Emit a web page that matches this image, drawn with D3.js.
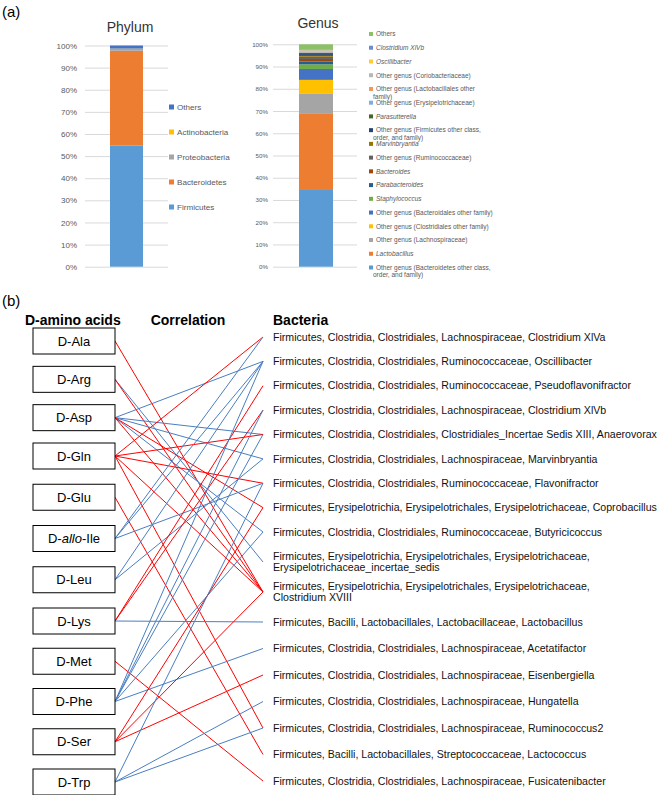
<!DOCTYPE html>
<html>
<head>
<meta charset="utf-8">
<script src="https://cdn.jsdelivr.net/npm/d3@7"></script>
<style>
  body { margin: 0; background: #fff; }
  svg { display: block; }
  text { font-family: "Liberation Sans", Arial, sans-serif; }
</style>
</head>
<body>
<svg id="chart" width="660" height="795"></svg>
<script>
// ---- (a) data ----
const phylumNames = ["Firmicutes", "Bacteroidetes", "Proteobacteria", "Actinobacteria", "Others"];
const phylumValues = [54.7, 42.9, 0.9, 0.1, 1.4];
const phylumColors = ["#5B9BD5", "#ED7D31", "#A5A5A5", "#FFC000", "#4472C4"];

// bottom to top of the stack
const genusNames = [
  "Other genus (Bacteroidetes other class, order, and family)",
  "Lactobacillus",
  "Other genus (Lachnospiraceae)",
  "Other genus (Clostridiales other family)",
  "Other genus (Bacteroidales other family)",
  "Staphylococcus",
  "Parabacteroides",
  "Bacteroides",
  "Other genus (Ruminococcaceae)",
  "Marvinbryantia",
  "Other genus (Firmicutes other class, order, and family)",
  "Parasutterella",
  "Other genus (Erysipelotrichaceae)",
  "Other genus (Lactobacillales other family)",
  "Other genus (Coriobacteriaceae)",
  "Oscillibacter",
  "Clostridium XlVb",
  "Others"
];
const genusValues = [34.5, 34.5, 8.7, 6.3, 4.9, 2.1, 1.2, 1.2, 1.0, 0.4, 0.8, 0.5, 0.3, 0.3, 0.4, 0.2, 0.2, 2.5];
const genusItalic = [false, true, false, false, false, true, true, true, false, true, false, true, false, false, false, true, true, false];
const genusColors = ["#5B9BD5", "#ED7D31", "#A5A5A5", "#FFC000", "#4472C4", "#70AD47",
  "#255E91", "#9E480E", "#636363", "#997300", "#264478", "#43682B",
  "#7CAFDD", "#F1975A", "#B7B7B7", "#FFCD33", "#698ED0", "#8CC168"];
// legend text wrapped as in the figure
const genusLegendLines = {
  "Other genus (Bacteroidetes other class, order, and family)": ["Other genus (Bacteroidetes other class,", "order, and family)"],
  "Other genus (Firmicutes other class, order, and family)": ["Other genus (Firmicutes other class,", "order, and family)"],
  "Other genus (Lactobacillales other family)": ["Other genus (Lactobacillales other", "family)"]
};

const pctTicks = [0, 10, 20, 30, 40, 50, 60, 70, 80, 90, 100];

// ---- (b) data ----
const aminoAcids = ["D-Ala", "D-Arg", "D-Asp", "D-Gln", "D-Glu", "D-allo-Ile", "D-Leu", "D-Lys", "D-Met", "D-Phe", "D-Ser", "D-Trp"];
const bacteria = [
  ["Firmicutes, Clostridia, Clostridiales, Lachnospiraceae, Clostridium XlVa"],
  ["Firmicutes, Clostridia, Clostridiales, Ruminococcaceae, Oscillibacter"],
  ["Firmicutes, Clostridia, Clostridiales, Ruminococcaceae, Pseudoflavonifractor"],
  ["Firmicutes, Clostridia, Clostridiales, Lachnospiraceae, Clostridium XlVb"],
  ["Firmicutes, Clostridia, Clostridiales, Clostridiales_Incertae Sedis XIII, Anaerovorax"],
  ["Firmicutes, Clostridia, Clostridiales, Lachnospiraceae, Marvinbryantia"],
  ["Firmicutes, Clostridia, Clostridiales, Ruminococcaceae, Flavonifractor"],
  ["Firmicutes, Erysipelotrichia, Erysipelotrichales, Erysipelotrichaceae, Coprobacillus"],
  ["Firmicutes, Clostridia, Clostridiales, Ruminococcaceae, Butyricicoccus"],
  ["Firmicutes, Erysipelotrichia, Erysipelotrichales, Erysipelotrichaceae,", "Erysipelotrichaceae_incertae_sedis"],
  ["Firmicutes, Erysipelotrichia, Erysipelotrichales, Erysipelotrichaceae,", "Clostridium XVIII"],
  ["Firmicutes, Bacilli, Lactobacillales, Lactobacillaceae, Lactobacillus"],
  ["Firmicutes, Clostridia, Clostridiales, Lachnospiraceae, Acetatifactor"],
  ["Firmicutes, Clostridia, Clostridiales, Lachnospiraceae, Eisenbergiella"],
  ["Firmicutes, Clostridia, Clostridiales, Lachnospiraceae, Hungatella"],
  ["Firmicutes, Clostridia, Clostridiales, Lachnospiraceae, Ruminococcus2"],
  ["Firmicutes, Bacilli, Lactobacillales, Streptococcaceae, Lactococcus"],
  ["Firmicutes, Clostridia, Clostridiales, Lachnospiraceae, Fusicatenibacter"]
];
// [amino acid, bacterium index (0-based), sign]  red = "+", blue = "-"
const links = [
  ["D-Ala", 10, "+"],
  ["D-Arg", 9, "-"], ["D-Arg", 10, "+"],
  ["D-Asp", 1, "-"], ["D-Asp", 4, "-"], ["D-Asp", 5, "-"], ["D-Asp", 8, "-"], ["D-Asp", 7, "+"], ["D-Asp", 10, "+"],
  ["D-Gln", 0, "+"], ["D-Gln", 4, "+"], ["D-Gln", 6, "+"], ["D-Gln", 10, "+"], ["D-Gln", 15, "+"],
  ["D-Glu", 16, "+"],
  ["D-allo-Ile", 0, "-"], ["D-allo-Ile", 1, "-"], ["D-allo-Ile", 6, "-"],
  ["D-Leu", 1, "-"], ["D-Leu", 5, "-"],
  ["D-Lys", 2, "+"], ["D-Lys", 3, "+"], ["D-Lys", 11, "-"],
  ["D-Met", 17, "+"],
  ["D-Phe", 1, "-"], ["D-Phe", 3, "-"], ["D-Phe", 4, "-"], ["D-Phe", 8, "-"], ["D-Phe", 12, "-"],
  ["D-Ser", 7, "+"], ["D-Ser", 10, "+"], ["D-Ser", 13, "+"],
  ["D-Trp", 6, "-"], ["D-Trp", 14, "-"], ["D-Trp", 15, "-"]
];

const svg = d3.select("#chart");
svg.append("rect").attr("width", 660).attr("height", 795).attr("fill", "#fff");

const axisGray = "#595959";
const gridGray = "#D9D9D9";

svg.append("text").attr("x", 2).attr("y", 17).attr("font-size", 15).text("(a)");

// stacked single bar helper
function stackBar(values) {
  let acc = 0;
  return values.map(v => { const d = [acc, acc + v]; acc += v; return d; });
}

// ---- Phylum ----
{
  const y = d3.scaleLinear().domain([0, 100]).range([266.7, 45.5]);
  const g = svg.append("g");
  g.append("text").attr("x", 130).attr("y", 32).attr("text-anchor", "middle")
    .attr("font-size", 14).attr("fill", "#333").text("Phylum");
  const axis = d3.axisLeft(y).tickValues(pctTicks).tickFormat(d => d + "%").tickSize(-83).tickPadding(8);
  const ag = g.append("g").attr("transform", "translate(85,0)").call(axis);
  ag.select(".domain").remove();
  ag.selectAll(".tick line").attr("stroke", gridGray);
  ag.selectAll(".tick text").attr("fill", axisGray).attr("font-size", 8)
    .attr("font-family", "Liberation Sans, Arial, sans-serif");
  const segs = stackBar(phylumValues);
  g.selectAll("rect.seg").data(segs).join("rect").attr("class", "seg")
    .attr("x", 110).attr("width", 33)
    .attr("y", d => y(d[1])).attr("height", d => y(d[0]) - y(d[1]))
    .attr("fill", (d, i) => phylumColors[i]);
  // legend, top = last series
  const legY = d3.scalePoint().domain(d3.reverse(phylumNames)).range([107, 207]);
  const lg = g.selectAll("g.leg").data(phylumNames).join("g").attr("class", "leg")
    .attr("transform", d => `translate(169,${legY(d)})`);
  lg.append("rect").attr("x", 0).attr("y", -2.5).attr("width", 5).attr("height", 5)
    .attr("fill", (d, i) => phylumColors[i]);
  lg.append("text").attr("x", 8).attr("y", 2.8).attr("font-size", 8.1).attr("fill", axisGray).text(d => d);
}

// ---- Genus ----
{
  const y = d3.scaleLinear().domain([0, 100]).range([266.7, 44.3]);
  const g = svg.append("g");
  g.append("text").attr("x", 318).attr("y", 28).attr("text-anchor", "middle")
    .attr("font-size", 14).attr("fill", "#333").text("Genus");
  const axis = d3.axisLeft(y).tickValues(pctTicks).tickFormat(d => d + "%").tickSize(-84).tickPadding(5);
  const ag = g.append("g").attr("transform", "translate(273,0)").call(axis);
  ag.select(".domain").remove();
  ag.selectAll(".tick line").attr("stroke", gridGray);
  ag.selectAll(".tick text").attr("fill", axisGray).attr("font-size", 6.2)
    .attr("font-family", "Liberation Sans, Arial, sans-serif");
  const segs = stackBar(genusValues);
  g.selectAll("rect.seg").data(segs).join("rect").attr("class", "seg")
    .attr("x", 299).attr("width", 34)
    .attr("y", d => y(d[1])).attr("height", d => y(d[0]) - y(d[1]))
    .attr("fill", (d, i) => genusColors[i]);
  // legend rows: top entry = last series
  const order = d3.reverse(genusNames);
  const legY = d3.scaleLinear().domain([0, order.length - 1]).range([34, 267.5]);
  const lg = g.selectAll("g.leg").data(order).join("g").attr("class", "leg")
    .attr("transform", (d, i) => `translate(369,${legY(i)})`);
  lg.append("rect").attr("x", 0).attr("y", -2).attr("width", 4).attr("height", 4)
    .attr("fill", d => genusColors[genusNames.indexOf(d)]);
  lg.each(function (d) {
    const lines = genusLegendLines[d] || [d];
    const t = d3.select(this).append("text").attr("font-size", 6.5).attr("fill", axisGray)
      .attr("font-style", genusItalic[genusNames.indexOf(d)] ? "italic" : "normal");
    lines.forEach((ln, k) => {
      t.append("tspan").attr("x", k === 0 ? 7 : 4).attr("y", 2.3 + k * 7.5).text(ln);
    });
  });
}

// ---- (b) ----
svg.append("text").attr("x", 2).attr("y", 306).attr("font-size", 15).text("(b)");
svg.append("text").attr("x", 25).attr("y", 325).attr("font-size", 14).attr("font-weight", "bold").text("D-amino acids");
svg.append("text").attr("x", 188).attr("y", 325).attr("font-size", 14).attr("font-weight", "bold")
  .attr("text-anchor", "middle").text("Correlation");
svg.append("text").attr("x", 273).attr("y", 325).attr("font-size", 14).attr("font-weight", "bold").text("Bacteria");

const yAA = d3.scaleLinear().domain([0, 3, 7, 11]).range([341, 456, 621, 782]);
const yBac = d3.scaleLinear().domain([0, 8, 11, 17]).range([337, 532, 622, 781]);
const boxLeft = 33, boxRight = 115, lineEnd = 263, boxH = 26;
const color = d3.scaleOrdinal().domain(["+", "-"]).range(["#FF0000", "#4A7EC0"]);

const linkG = svg.append("g");
linkG.selectAll("line").data(links).join("line")
  .attr("x1", boxRight).attr("y1", d => yAA(aminoAcids.indexOf(d[0])))
  .attr("x2", lineEnd).attr("y2", d => yBac(d[1]))
  .attr("stroke", d => color(d[2])).attr("stroke-width", 1);

const boxG = svg.selectAll("g.aa").data(aminoAcids).join("g").attr("class", "aa")
  .attr("transform", (d, i) => `translate(0,${yAA(i)})`);
boxG.append("rect").attr("x", boxLeft).attr("y", -boxH / 2).attr("width", boxRight - boxLeft).attr("height", boxH)
  .attr("fill", "#fff").attr("stroke", "#000").attr("stroke-width", 1);
boxG.append("text").attr("x", (boxLeft + boxRight) / 2).attr("y", 4.5).attr("text-anchor", "middle")
  .attr("font-size", 13).each(function (d) {
    const t = d3.select(this);
    if (d === "D-allo-Ile") {
      t.append("tspan").text("D-");
      t.append("tspan").attr("font-style", "italic").text("allo");
      t.append("tspan").text("-Ile");
    } else t.text(d);
  });

const bacG = svg.selectAll("g.bac").data(bacteria).join("g").attr("class", "bac")
  .attr("transform", (d, i) => `translate(273,${yBac(i)})`);
bacG.append("text").attr("font-size", 10.6).attr("font-family", "Lato, sans-serif").attr("fill", "#111")
  .each(function (d) {
    const t = d3.select(this);
    const off = d.length === 2 ? -5.5 : 0;
    d.forEach((ln, k) => t.append("tspan").attr("x", 0).attr("y", off + 3.7 + k * 10.5).text(ln));
  });
</script>
</body>
</html>
